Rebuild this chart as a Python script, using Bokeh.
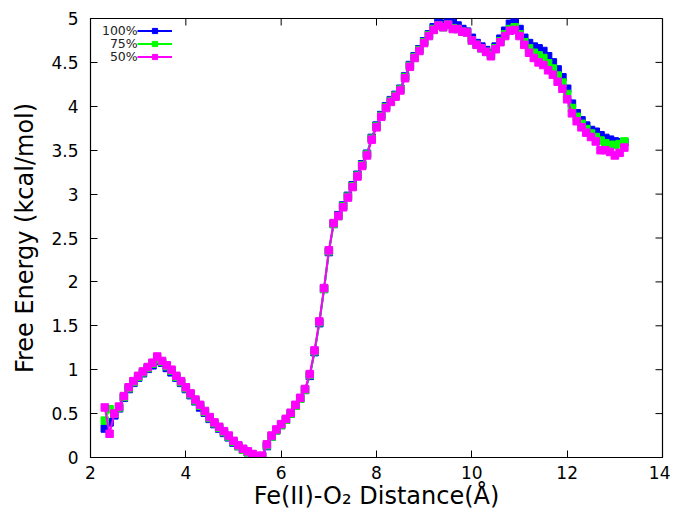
import math
from bokeh.plotting import figure
from bokeh.models import (FixedTicker, Legend, LegendItem, Label, Range1d)
from bokeh.embed import file_html
from bokeh.resources import INLINE

distance = [2.3, 2.4, 2.5, 2.6, 2.7, 2.8, 2.9, 3.0, 3.1, 3.2, 3.3, 3.4, 3.5, 3.6, 3.7, 3.8, 3.9,
            4.0, 4.1, 4.2, 4.3, 4.4, 4.5, 4.6, 4.7, 4.8, 4.9, 5.0, 5.1, 5.2, 5.3, 5.4, 5.5, 5.6,
            5.7, 5.8, 5.9, 6.0, 6.1, 6.2, 6.3, 6.4, 6.5, 6.6, 6.7, 6.8, 6.9, 7.0, 7.1, 7.2, 7.3,
            7.4, 7.5, 7.6, 7.7, 7.8, 7.9, 8.0, 8.1, 8.2, 8.3, 8.4, 8.5, 8.6, 8.7, 8.8, 8.9, 9.0,
            9.1, 9.2, 9.3, 9.4, 9.5, 9.6, 9.7, 9.8, 9.9, 10.0, 10.1, 10.2, 10.3, 10.4, 10.5, 10.6,
            10.7, 10.8, 10.9, 11.0, 11.1, 11.2, 11.3, 11.4, 11.5, 11.6, 11.7, 11.8, 11.9, 12.0,
            12.1, 12.2, 12.3, 12.4, 12.5, 12.6, 12.7, 12.8, 12.9, 13.0, 13.1, 13.2]

energy_100 = [0.33, 0.40, 0.48, 0.56, 0.68, 0.78, 0.85, 0.91, 0.96, 1.01, 1.05, 1.10, 1.08, 1.02, 0.97, 0.91, 0.85,
              0.78, 0.71, 0.64, 0.57, 0.51, 0.44, 0.38, 0.33, 0.28, 0.23, 0.17, 0.13, 0.09, 0.06, 0.03, 0.01, 0.01,
              0.13, 0.24, 0.31, 0.37, 0.43, 0.50, 0.59, 0.67, 0.77, 0.93, 1.20, 1.53, 1.92, 2.34, 2.66, 2.76, 2.87,
              2.98, 3.10, 3.22, 3.34, 3.46, 3.64, 3.78, 3.90, 4.00, 4.07, 4.13, 4.20, 4.34, 4.47, 4.57, 4.65, 4.74,
              4.82, 4.90, 4.95, 4.94, 4.97, 4.95, 4.92, 4.88, 4.85, 4.78, 4.72, 4.68, 4.64, 4.60, 4.68, 4.77,
              4.86, 4.94, 4.97, 4.88, 4.78, 4.72, 4.68, 4.66, 4.63, 4.57, 4.50, 4.42, 4.33, 4.20,
              4.03, 3.92, 3.84, 3.78, 3.73, 3.71, 3.67, 3.64, 3.62, 3.60, 3.59, 3.59]

energy_75 = [0.42, 0.55, 0.50, 0.57, 0.69, 0.79, 0.86, 0.92, 0.97, 1.02, 1.07, 1.12, 1.09, 1.04, 0.99, 0.92, 0.86,
             0.79, 0.72, 0.65, 0.59, 0.52, 0.45, 0.39, 0.34, 0.29, 0.24, 0.18, 0.13, 0.09, 0.06, 0.03, 0.01, 0.01,
             0.14, 0.24, 0.31, 0.37, 0.43, 0.50, 0.59, 0.67, 0.77, 0.94, 1.21, 1.54, 1.92, 2.35, 2.66, 2.75, 2.86,
             2.97, 3.09, 3.21, 3.33, 3.45, 3.63, 3.77, 3.89, 3.99, 4.06, 4.12, 4.19, 4.33, 4.46, 4.56, 4.64, 4.73,
             4.81, 4.88, 4.92, 4.90, 4.93, 4.89, 4.88, 4.85, 4.84, 4.75, 4.70, 4.66, 4.62, 4.58, 4.66, 4.74,
             4.82, 4.88, 4.90, 4.82, 4.73, 4.66, 4.61, 4.58, 4.55, 4.49, 4.43, 4.35, 4.27, 4.14,
             3.98, 3.88, 3.80, 3.74, 3.69, 3.65, 3.61, 3.58, 3.56, 3.56, 3.57, 3.60]

energy_50 = [0.57, 0.27, 0.50, 0.58, 0.70, 0.80, 0.87, 0.93, 0.98, 1.03, 1.08, 1.15, 1.10, 1.05, 1.00, 0.93, 0.87,
             0.80, 0.73, 0.66, 0.60, 0.53, 0.46, 0.40, 0.35, 0.30, 0.25, 0.19, 0.14, 0.10, 0.07, 0.04, 0.02, 0.02,
             0.15, 0.25, 0.32, 0.38, 0.44, 0.51, 0.60, 0.68, 0.78, 0.95, 1.22, 1.55, 1.93, 2.36, 2.67, 2.75, 2.85,
             2.96, 3.08, 3.20, 3.32, 3.44, 3.62, 3.76, 3.88, 3.98, 4.05, 4.11, 4.18, 4.32, 4.45, 4.55, 4.63, 4.72,
             4.80, 4.87, 4.92, 4.90, 4.93, 4.88, 4.88, 4.85, 4.84, 4.75, 4.70, 4.66, 4.62, 4.57, 4.65, 4.73,
             4.80, 4.86, 4.87, 4.80, 4.70, 4.61, 4.55, 4.50, 4.47, 4.41, 4.36, 4.28, 4.20, 4.08,
             3.92, 3.83, 3.76, 3.70, 3.65, 3.60, 3.50, 3.50, 3.48, 3.44, 3.47, 3.53]

series_labels = ["100%", "75%", "50%"]
series_colors = ["#0000ff", "#00ff00", "#ff00ff"]

x_ticks = [2, 4, 6, 8, 10, 12, 14]
y_ticks = [0, 0.5, 1, 1.5, 2, 2.5, 3, 3.5, 4, 4.5, 5]
y_tick_labels = ["0", "0.5", "1", "1.5", "2", "2.5", "3", "3.5", "4", "4.5", "5"]

X_MIN, X_MAX, Y_MIN, Y_MAX = 2, 14, 0, 5
FONT = "DejaVu Sans"

p = figure(width=670, height=512, output_backend="svg", toolbar_location=None,
           x_range=Range1d(X_MIN, X_MAX), y_range=Range1d(Y_MIN, Y_MAX),
           min_border_left=90, min_border_right=8, min_border_top=18, min_border_bottom=0)
p.background_fill_color = "white"
p.border_fill_color = "white"
p.outline_line_color = "black"
p.outline_line_width = 1.2
p.xgrid.visible = False
p.ygrid.visible = False

for ax in (p.xaxis[0], p.yaxis[0]):
    ax.major_tick_in = 7
    ax.major_tick_out = 0
    ax.minor_tick_in = 0
    ax.minor_tick_out = 0
    ax.axis_line_color = "black"
    ax.major_tick_line_color = "black"
    ax.major_label_text_font = FONT
    ax.major_label_text_font_size = "17px"
    ax.major_label_text_color = "black"
    ax.axis_label_text_font = FONT
    ax.axis_label_text_font_size = "24px"
    ax.axis_label_text_font_style = "normal"
    ax.axis_label_text_color = "black"

p.xaxis[0].ticker = FixedTicker(ticks=x_ticks)
p.yaxis[0].ticker = FixedTicker(ticks=y_ticks)
p.yaxis[0].major_label_overrides = {t: l for t, l in zip(y_ticks, y_tick_labels)}
p.xaxis[0].axis_label = "Fe(II)-O\u2082 Distance(\u00c5)"
p.yaxis[0].axis_label = "Free Energy (kcal/mol)"
p.xaxis[0].major_label_standoff = 8
p.yaxis[0].major_label_standoff = 12
p.xaxis[0].axis_label_standoff = 0
p.yaxis[0].axis_label_standoff = 9

# mirrored inward ticks on top and right edges (clipped to the frame)
p.scatter(x_ticks, [Y_MAX] * len(x_ticks), marker="dash", angle=math.pi / 2, size=14,
          line_color="black", line_width=1)
p.scatter([X_MAX] * len(y_ticks), y_ticks, marker="dash", size=14,
          line_color="black", line_width=1)

renderers = []
for ys, color in zip([energy_100, energy_75, energy_50], series_colors):
    ln = p.line(distance, ys, line_color=color, line_width=2)
    sc = p.scatter(distance, ys, marker="square", size=7.5, fill_color=color, line_color=color)
    renderers.append([ln, sc])

legend = Legend(items=[LegendItem(label=" ", renderers=r) for r in renderers],
                location=(47, 394), glyph_width=35, glyph_height=13, label_height=13,
                label_width=1, label_standoff=0, label_text_font_size="1px",
                spacing=0, padding=0, margin=0,
                background_fill_alpha=0, border_line_color=None)
p.add_layout(legend, "center")

for lab, yv in zip(series_labels, [4.863, 4.715, 4.566]):
    p.add_layout(Label(x=2.99, y=yv, text=lab, text_align="right", text_baseline="middle",
                       text_font=FONT, text_font_size="12.5px", text_color="#222222"))

open("out.html", "w").write(file_html(p, INLINE))
